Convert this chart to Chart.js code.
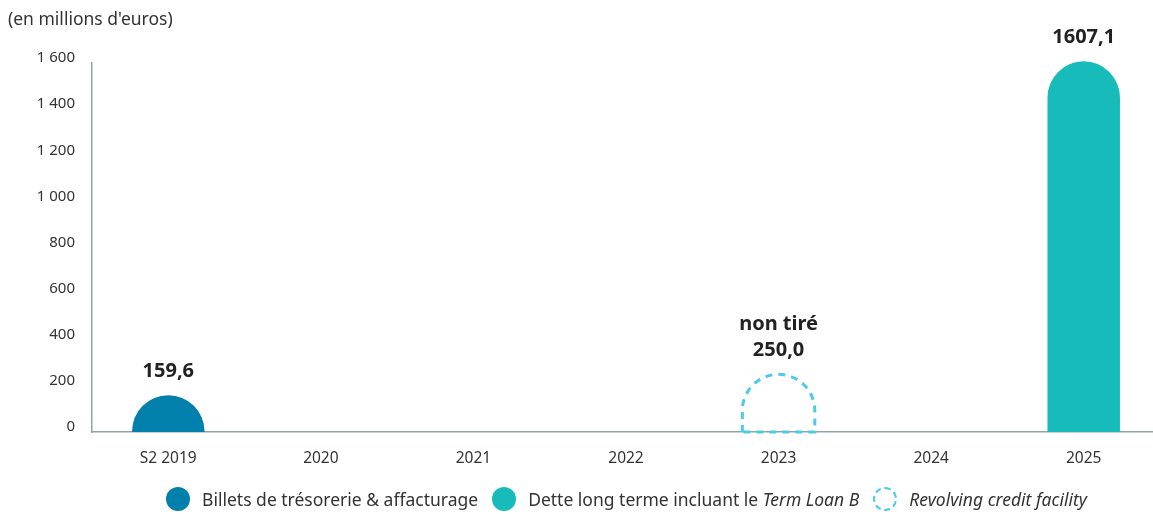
<!DOCTYPE html>
<html>
<head>
<meta charset="utf-8">
<script src="https://cdn.jsdelivr.net/npm/chart.js@4.4.0/dist/chart.umd.min.js"></script>
<style>
  body { margin: 0; background: #fff; font-family: "Noto Sans", sans-serif; overflow: hidden; }
  .wrap { position: relative; width: 1153px; height: 514px; overflow: hidden; }
  .unit { position: absolute; left: 8px; top: 6px; font-size: 17.5px; color: #333; }
  .legend { position: absolute; left: 0; top: 487px; width: 1153px; display: flex; justify-content: center; align-items: center; font-size: 17.5px; color: #333; padding-left: 100px; box-sizing: border-box; }
  .legend span.item { display: flex; align-items: center; margin: 0 7px; }
  .legend i.dot { display: inline-block; width: 24px; height: 24px; border-radius: 50%; margin-right: 12px; box-sizing: border-box; }
</style>
</head>
<body>
<div class="wrap">
  <canvas id="chart" width="1160" height="514"></canvas>
  <div class="unit">(en millions d'euros)</div>
  <div class="legend">
    <span class="item"><i class="dot" style="background:#0080ab"></i>Billets de trésorerie &amp; affacturage</span>
    <span class="item"><i class="dot" style="background:#17bbba"></i>Dette long terme incluant le&nbsp;<em>Term Loan B</em></span>
    <span class="item"><i class="dot" style="border:2.5px dashed #4ccbe9"></i><em>Revolving credit facility</em></span>
  </div>
</div>
<script>
// categories and values (millions d'euros)
const categories = ['S2 2019', '2020', '2021', '2022', '2023', '2024', '2025'];
const billets = [159.6, null, null, null, null, null, null];
const detteLT = [null, null, null, null, null, null, 1607.1];
const revolving = [null, null, null, null, 250.0, null, null];
const notes = { 'Revolving credit facility': 'non tiré' };

const fmt = v => v.toFixed(1).replace('.', ',');

// draws bars as pill shapes (rounded tops) from the element geometry
const pillBars = {
  id: 'pillBars',
  beforeDatasetDraw(chart, args) {
    const ctx = chart.ctx;
    const ds = chart.data.datasets[args.index];
    args.meta.data.forEach((el, i) => {
      if (ds.data[i] == null) return;
      const { x, y, base, width } = el.getProps(['x', 'y', 'base', 'width'], true);
      const r = width / 2, h = base - y, left = x - r, right = x + r;
      ctx.save();
      ctx.beginPath();
      if (h >= r) {
        ctx.moveTo(left, base);
        ctx.lineTo(left, y + r);
        ctx.arc(x, y + r, r, Math.PI, 2 * Math.PI);
        ctx.lineTo(right, base);
      } else {
        ctx.ellipse(x, base, r, h, 0, Math.PI, 2 * Math.PI);
      }
      ctx.closePath();
      if (ds.dashed) {
        ctx.setLineDash([7, 6]);
        ctx.lineWidth = 3;
        ctx.strokeStyle = ds.borderColor;
        ctx.stroke();
      } else {
        ctx.fillStyle = ds.backgroundColor;
        ctx.fill();
      }
      // value label
      ctx.setLineDash([]);
      ctx.fillStyle = '#222';
      ctx.font = 'bold 20px "Noto Sans"';
      ctx.textAlign = 'center';
      ctx.textBaseline = 'middle';
      ctx.fillText(fmt(ds.data[i]), x, y - 24);
      if (notes[ds.label]) ctx.fillText(notes[ds.label], x, y - 50);
      ctx.restore();
    });
    return false;
  }
};

new Chart(document.getElementById('chart'), {
  type: 'bar',
  data: {
    labels: categories,
    datasets: [
      { label: 'Billets de trésorerie & affacturage', data: billets, backgroundColor: '#0080ab' },
      { label: 'Dette long terme incluant le Term Loan B', data: detteLT, backgroundColor: '#17bbba' },
      { label: 'Revolving credit facility', data: revolving, backgroundColor: 'transparent', borderColor: '#4ccbe9', dashed: true }
    ]
  },
  options: {
    responsive: false,
    animation: false,
    layout: { padding: { top: 63, right: 0, bottom: 0, left: 0 } },
    datasets: { bar: { grouped: false, categoryPercentage: 1, barPercentage: 0.475 } },
    plugins: { legend: { display: false }, tooltip: { enabled: false } },
    scales: {
      x: {
        grid: { display: false },
        border: { display: true, color: '#8fa3ae', width: 1.5 },
        ticks: { color: '#333', font: { family: 'Noto Sans', size: 15.5 }, padding: 9 },
        afterFit(scale) { scale.height = 82; }
      },
      y: {
        min: 0,
        max: 1600,
        grid: { display: false },
        border: { display: true, color: '#8fa3ae', width: 1.5 },
        ticks: {
          stepSize: 200,
          color: '#333',
          font: { family: 'Noto Sans', size: 15 },
          padding: 9,
          labelOffset: -5,
          callback: v => v >= 1000 ? Math.floor(v / 1000) + ' ' + String(v % 1000).padStart(3, '0') : String(v)
        },
        afterFit(scale) { scale.width = 92; }
      }
    }
  },
  plugins: [pillBars]
});
</script>
</body>
</html>
